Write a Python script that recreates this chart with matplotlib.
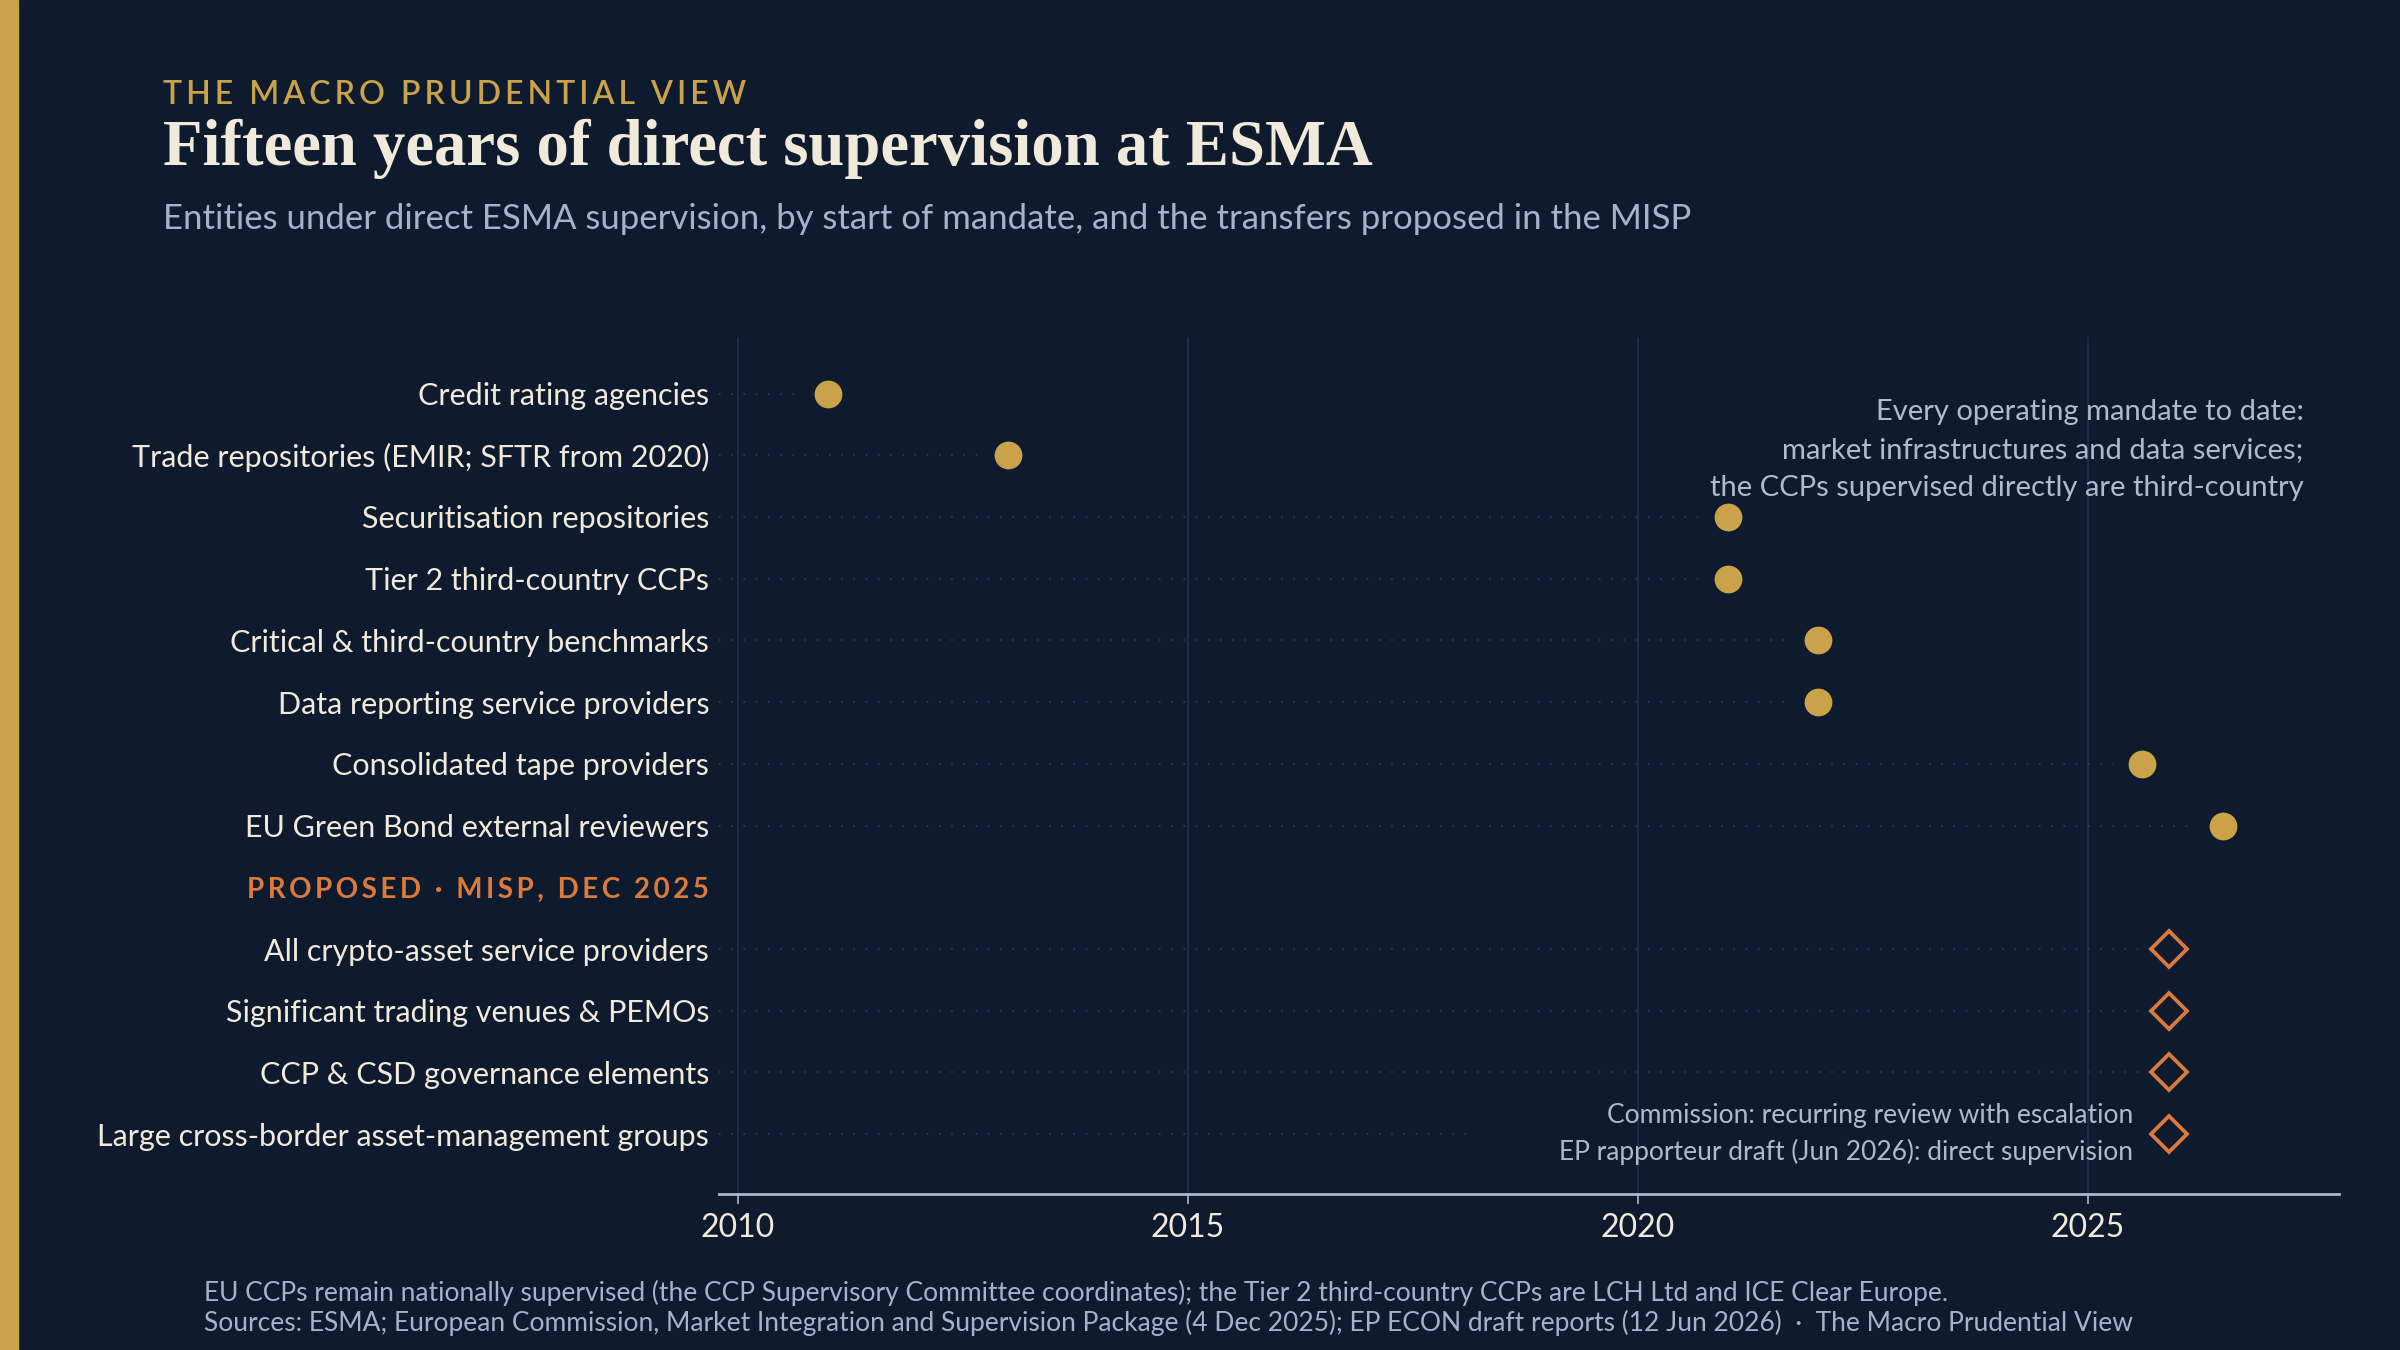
import matplotlib.pyplot as plt
import matplotlib.patches as mpatches

BG = '#0E1B2E'
GOLD = '#C9A24A'
ORANGE = '#DC7A3C'
CREAM = '#F1E9DA'
SLATE = '#A4B3C8'
NOTE = '#AEBBCF'
GRID = '#1F2E46'
DOTS = '#33435E'
AXIS = '#A9B8CC'

plt.rcParams['font.family'] = ['Lato', 'DejaVu Sans']

# entities already supervised, with start of mandate
current = [
    'Credit rating agencies',
    'Trade repositories (EMIR; SFTR from 2020)',
    'Securitisation repositories',
    'Tier 2 third-country CCPs',
    'Critical & third-country benchmarks',
    'Data reporting service providers',
    'Consolidated tape providers',
    'EU Green Bond external reviewers',
]
current_year = [2011.0, 2013.0, 2021.0, 2021.0, 2022.0, 2022.0, 2025.6, 2026.5]

header = 'PROPOSED · MISP, DEC 2025'

# transfers proposed in the MISP
proposed = [
    'All crypto-asset service providers',
    'Significant trading venues & PEMOs',
    'CCP & CSD governance elements',
    'Large cross-border asset-management groups',
]
proposed_year = [2025.9, 2025.9, 2025.9, 2025.9]

xticks = [2010, 2015, 2020, 2025]


def spaced(s, sep='\u2009'):
    return sep.join(s)


fig = plt.figure(figsize=(24, 13.5), dpi=100, facecolor=BG)
fig.patches.append(mpatches.Rectangle((0, 0), 0.0075, 1, transform=fig.transFigure,
                                      color=GOLD, zorder=0))

ax = fig.add_axes([0.2996, 0.1156, 0.675, 0.6348])
ax.set_facecolor(BG)

xmin, xmax = 2009.79, 2027.79
gap = 0.32

cur_rows = list(range(len(current)))
head_row = len(current)
prop_rows = [head_row + 1 + i for i in range(len(proposed))]

# dotted leaders
for r, v in zip(cur_rows, current_year):
    ax.plot([xmin, v - gap], [r, r], color=DOTS, lw=1.1, ls=(0, (1, 7)), zorder=1)
for r, v in zip(prop_rows[:-1], proposed_year[:-1]):
    ax.plot([xmin, v - gap], [r, r], color=DOTS, lw=1.1, ls=(0, (1, 7)), zorder=1)

ax.plot(current_year, cur_rows, ls='none', marker='o', ms=20, color=GOLD,
        mec='none', zorder=3)
ax.plot(proposed_year, prop_rows, ls='none', marker='D', ms=18, mfc=BG,
        mec=ORANGE, mew=2.7, zorder=3)

ax.set_xlim(xmin, xmax)
ax.set_ylim(12.968, -0.917)
ax.set_xticks(xticks)
ax.set_xticklabels([str(t) for t in xticks])
ax.grid(axis='x', color=GRID, lw=1.3)
ax.set_axisbelow(True)

ylabels = current + [spaced(header)] + proposed
ax.set_yticks(range(len(ylabels)))
ax.set_yticklabels(ylabels)
for i, t in enumerate(ax.get_yticklabels()):
    if i == head_row:
        t.set_color(ORANGE)
        t.set_fontweight('bold')
        t.set_fontsize(20)
    else:
        t.set_color(CREAM)
        t.set_fontsize(22)

for s in ['top', 'right', 'left']:
    ax.spines[s].set_visible(False)
ax.spines['bottom'].set_color(AXIS)
ax.spines['bottom'].set_linewidth(2)
ax.tick_params(axis='x', colors=AXIS, length=7, width=1.2, pad=7,
               labelsize=23, labelcolor=CREAM)
ax.tick_params(axis='y', length=0, pad=7)

# annotations
ax.text(0.978, 0.868,
        'Every operating mandate to date:\nmarket infrastructures and data services;\n'
        'the CCPs supervised directly are third-country',
        transform=ax.transAxes, ha='right', va='center', multialignment='right',
        fontsize=21, color=NOTE, linespacing=1.58)

ann = ax.annotate('Commission: recurring review with escalation\n'
                  'EP rapporteur draft (Jun 2026): direct supervision',
                  xy=(proposed_year[-1], prop_rows[-1]), xytext=(-26, 0),
                  textcoords='offset points', ha='right', va='center',
                  multialignment='right', fontsize=19, color=NOTE, linespacing=1.5)

# last leader stops short of the note
fig.canvas.draw()
bb = ann.get_window_extent()
x_note = ax.transData.inverted().transform((bb.x0, 0))[0]
ax.plot([xmin, x_note - 1.0], [prop_rows[-1]] * 2, color=DOTS, lw=1.1,
        ls=(0, (1, 7)), zorder=1)

# titles
fig.text(0.068, 0.923, spaced('THE MACRO PRUDENTIAL VIEW'), fontsize=23,
         color=GOLD, fontweight='semibold', va='baseline')
fig.text(0.068, 0.8778, 'Fifteen years of direct supervision at ESMA',
         family='Liberation Serif', fontweight='bold', fontsize=46.5,
         color=CREAM, va='baseline')
fig.text(0.068, 0.8304, 'Entities under direct ESMA supervision, by start of mandate, '
         'and the transfers proposed in the MISP', fontsize=25, color=SLATE,
         va='baseline')

fig.text(0.085, 0.0363, 'EU CCPs remain nationally supervised (the CCP Supervisory '
         'Committee coordinates); the Tier 2 third-country CCPs are LCH Ltd and ICE Clear Europe.',
         fontsize=19, color=SLATE, va='baseline')
fig.text(0.085, 0.0141, 'Sources: ESMA; European Commission, Market Integration and '
         'Supervision Package (4 Dec 2025); EP ECON draft reports (12 Jun 2026)  ·  '
         'The Macro Prudential View', fontsize=19, color=SLATE, va='baseline')

fig.savefig('out.png', dpi=100, facecolor=BG)
